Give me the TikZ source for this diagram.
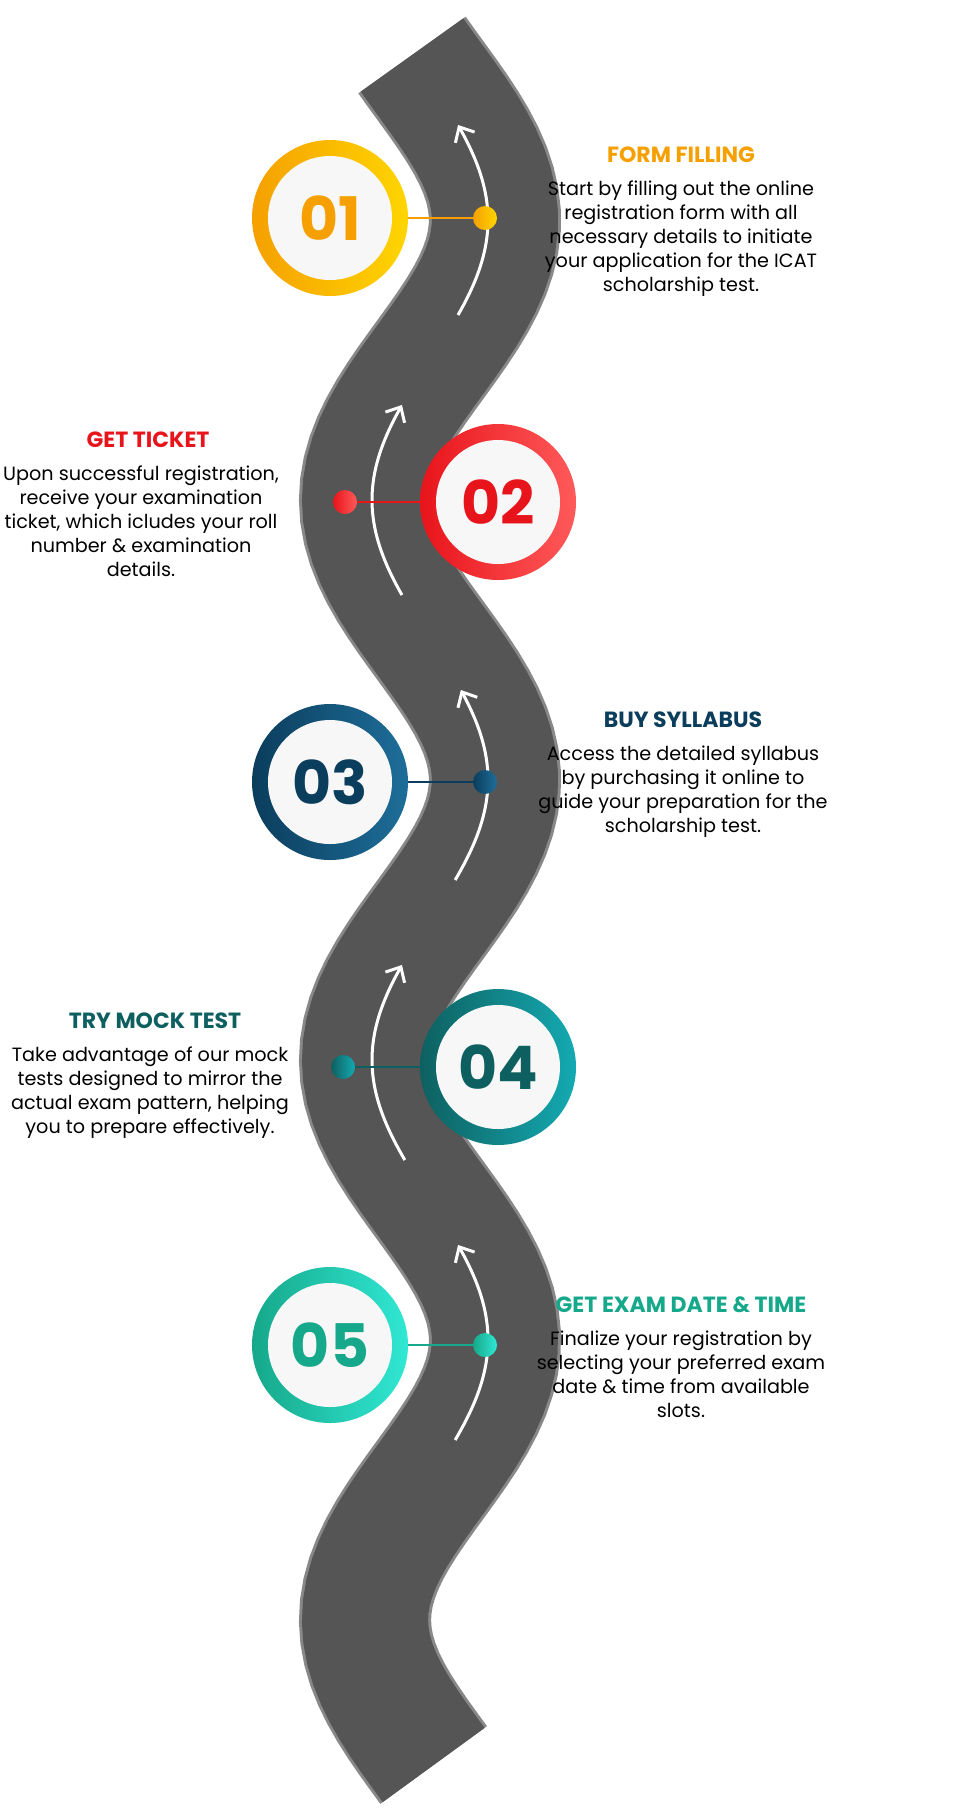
\documentclass[tikz,border=0pt]{standalone}
\usepackage{fontspec}
\setmainfont{Poppins}
\usetikzlibrary{arrows.meta}
\definecolor{roadgray}{HTML}{555555}
\definecolor{cOne}{HTML}{F5A000}
\definecolor{cOneB}{HTML}{FFD500}
\definecolor{cTwo}{HTML}{E8141B}
\definecolor{cTwoB}{HTML}{FF5A5A}
\definecolor{cThree}{HTML}{0B3D5C}
\definecolor{cThreeB}{HTML}{1E6E9A}
\definecolor{cFour}{HTML}{0E6060}
\definecolor{cFourB}{HTML}{14AAB2}
\definecolor{cFive}{HTML}{16A88A}
\definecolor{cFiveB}{HTML}{30E8D4}
\tikzset{
  ring/.style={circle, minimum size=78pt, inner sep=0pt},
  face/.style={circle, minimum size=62pt, inner sep=0pt, fill=gray!6,
    font=\fontsize{30}{30}\selectfont\bfseries},
  dot/.style={circle, minimum size=12pt, inner sep=0pt},
  ttl/.style={font=\fontsize{11}{13}\selectfont\bfseries},
  body/.style={align=center, font=\fontsize{9.6}{12}\selectfont}
}
\begin{document}
\begin{tikzpicture}[x=0.5pt,y=-0.5pt]
\useasboundingbox (0,0) rectangle (960,1812);
% road
\draw[roadgray!70!white, line width=66pt] plot[domain=55:1765, samples=120, variable=\y] ({430+65*cos(0.642857*(\y-220))},\y);
\draw[roadgray, line width=63pt] plot[domain=55:1765, samples=120, variable=\y] ({430+65*cos(0.642857*(\y-220))},\y);
% arrows on the road
\foreach \a/\b in {315/125, 595/405, 880/690, 1160/965, 1440/1245}
  \draw[white, line width=1.5pt, -{Straight Barb[length=6pt,width=11pt]}] plot[domain=\a:\b, samples=40, variable=\y] ({430+58*cos(0.642857*(\y-220))},\y);
% steps
\foreach \n/\x/\y/\dx/\ca/\cb in {01/330/218/485/cOne/cOneB, 02/498/502/345/cTwo/cTwoB, 03/330/782/485/cThree/cThreeB, 04/498/1067/343/cFour/cFourB, 05/330/1345/485/cFive/cFiveB}{
  \node[ring, left color=\ca, right color=\cb] (r\n) at (\x,\y) {};
  \node[dot, left color=\ca, right color=\cb] (d\n) at (\dx,\y) {};
  \draw[\ca, line width=1pt] (r\n) -- (d\n);
  \node[face, text=\ca] (f\n) at (\x,\y) {\n};
}
% texts
\node[ttl, text=cOne] (t01) at (681,155) {FORM FILLING};
\node[body, below=2pt] (b01) at (t01.south) {Start by filling out the online\\registration form with all\\necessary details to initiate\\your application for the ICAT\\scholarship test.};
\node[ttl, text=cTwo] (t02) at (148,440) {GET TICKET};
\node[body, below=2pt] (b02) at (t02.south -| 141,0) {Upon successful registration,\\receive your examination\\ticket, which icludes your roll\\number \& examination\\details.};
\node[ttl, text=cThree] (t03) at (683,720) {BUY SYLLABUS};
\node[body, below=2pt] (b03) at (t03.south) {Access the detailed syllabus\\by purchasing it online to\\guide your preparation for the\\scholarship test.};
\node[ttl, text=cFour] (t04) at (155,1021) {TRY MOCK TEST};
\node[body, below=2pt] (b04) at (t04.south -| 150,0) {Take advantage of our mock\\tests designed to mirror the\\actual exam pattern, helping\\you to prepare effectively.};
\node[ttl, text=cFive] (t05) at (681,1305) {GET EXAM DATE \& TIME};
\node[body, below=2pt] (b05) at (t05.south) {Finalize your registration by\\selecting your preferred exam\\date \& time from available\\slots.};
\end{tikzpicture}
\end{document}
